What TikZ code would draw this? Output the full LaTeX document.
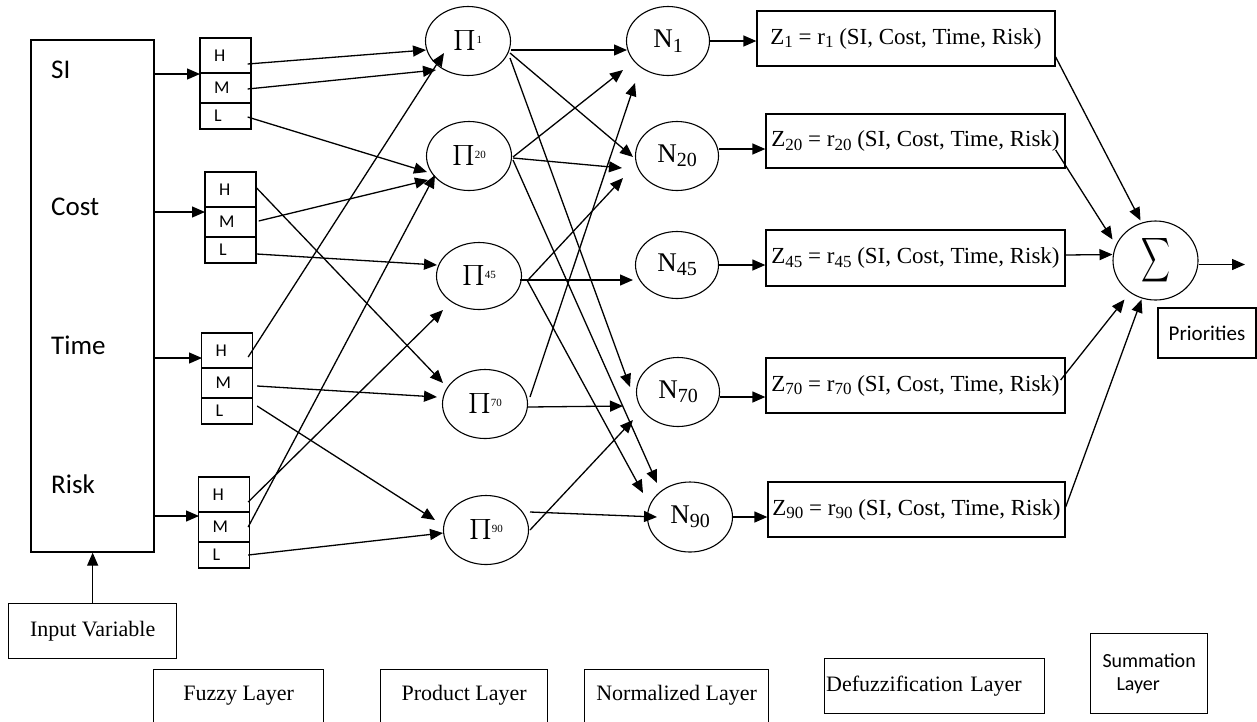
\documentclass[tikz,border=0pt]{standalone}
\usepackage{fontspec}
\setmainfont{Liberation Serif}
\newfontfamily\carl{Carlito}
\usepackage{graphicx}
\usetikzlibrary{arrows.meta,calc,shapes.geometric}
\newcommand{\sbs}[1]{\raisebox{-0.35ex}{\fontsize{17}{17}\selectfont #1}}
\newcommand{\nsbs}[1]{\raisebox{-0.35ex}{\fontsize{20}{20}\selectfont #1}}
\newcommand{\sps}[1]{\raisebox{8pt}{\fontsize{11}{11}\selectfont #1}}
\newcommand{\prodsym}{\scalebox{2.4}[2.0]{$\prod$}}
\begin{document}
\begin{tikzpicture}[x=1pt,y=-1pt,
  every node/.style={inner sep=0pt},
  box/.style={draw, line width=1.3pt, rectangle},
  cell/.style={box, minimum width=51pt, text width=23pt, align=left, font=\carl\fontsize{18}{18}\selectfont},
  cH/.style={cell, minimum height=35pt},
  cM/.style={cell, minimum height=30pt},
  cL/.style={cell, minimum height=26pt},
  invar/.style={anchor=west, font=\carl\fontsize{27}{27}\selectfont},
  ell/.style={draw, line width=1.1pt, ellipse, inner sep=0pt},
  pnode/.style={ell, minimum width=85pt, minimum height=69pt, font=\fontsize{22}{22}\selectfont},
  nnode/.style={ell, minimum width=83pt, minimum height=69pt, font=\fontsize{27}{27}\selectfont},
  zbox/.style={box, minimum height=55pt, inner xsep=2pt, font=\fontsize{23}{23}\selectfont},
  layer/.style={box, anchor=north west, text height=16pt, text depth=60pt, inner ysep=15pt, font=\fontsize{22}{22}\selectfont},
  arr/.style={line width=1.3pt, -{Triangle[length=13pt,width=11pt]}}]
\useasboundingbox (0,0) rectangle (1257,721);
\clip (0,0) rectangle (1257,721);

% input variable box
\node[box, minimum width=123pt, minimum height=512pt] (inp) at (92.5,296) {};
\node[invar] (tsi) at (51,70) {SI};
\node[invar] (tcost) at (51,207) {Cost};
\node[invar] (ttime) at (51,345) {Time};
\node[invar] (trisk) at (51,484) {Risk};

% fuzzy cells
\node[cH] (f1h) at (225.5,55.5) {H};
\node[cM] (f1m) at (225.5,88) {M};
\node[cL] (f1l) at (225.5,116) {L};
\node[cH] (f2h) at (230.5,189.5) {H};
\node[cM] (f2m) at (230.5,222) {M};
\node[cL] (f2l) at (230.5,250) {L};
\node[cH] (f3h) at (227,350.5) {H};
\node[cM] (f3m) at (227,383) {M};
\node[cL] (f3l) at (227,411) {L};
\node[cH] (f4h) at (224,494.5) {H};
\node[cM] (f4m) at (224,527) {M};
\node[cL] (f4l) at (224,555) {L};

\coordinate (a1) at (200,74);
\coordinate (a2) at (205,212);
\coordinate (a3) at (202,358);
\coordinate (a4) at (199,516);
\draw[arr] (inp.east |- a1) -- (a1);
\draw[arr] (inp.east |- a2) -- (a2);
\draw[arr] (inp.east |- a3) -- (a3);
\draw[arr] (inp.east |- a4) -- (a4);

% product layer
\node[pnode] (p1) at (468,41) {\prodsym\sps{1}};
\node[pnode] (p20) at (469,156) {\prodsym\sps{20}};
\node[pnode, minimum height=67pt] (p45) at (479,276) {\prodsym\sps{45}};
\node[pnode] (p70) at (485,404) {\prodsym\sps{70}};
\node[pnode] (p90) at (486,530) {\prodsym\sps{90}};

% normalized layer
\node[nnode] (n1) at (668,41) {N\nsbs{1}};
\node[nnode] (n20) at (677,156) {N\nsbs{20}};
\node[nnode, minimum height=67pt] (n45) at (677,265) {N\nsbs{45}};
\node[nnode] (n70) at (678,392) {N\nsbs{70}};
\node[nnode, minimum width=85pt, minimum height=70pt] (n90) at (690,517) {N\nsbs{90}};

% defuzzification boxes
\node[zbox, minimum width=298pt] (z1) at (906,38.5) {Z\sbs{1} = r\sbs{1} (SI, Cost, Time, Risk)};
\node[zbox, minimum width=299pt, minimum height=54pt] (z20) at (915.5,141) {Z\sbs{20} = r\sbs{20} (SI, Cost, Time, Risk)};
\node[zbox, minimum width=299pt, minimum height=56pt] (z45) at (915.5,258) {Z\sbs{45} = r\sbs{45} (SI, Cost, Time, Risk)};
\node[zbox, minimum width=299pt] (z70) at (915.5,385.5) {Z\sbs{70} = r\sbs{70} (SI, Cost, Time, Risk)};
\node[zbox, minimum width=297pt] (z90) at (916.5,509.5) {Z\sbs{90} = r\sbs{90} (SI, Cost, Time, Risk)};

% summation
\node[ell, minimum width=85pt, minimum height=79pt] (sig) at (1155.5,260.5) {\scalebox{2.0}[3.1]{$\displaystyle\sum$}};
\coordinate (outp) at (1245,264.5);
\node[box, minimum width=98pt, minimum height=50pt, font=\carl\fontsize{21}{21}\selectfont] (prio) at (1207,333) {Priorities};

% fuzzy -> product
\draw[arr] ($(f1h.east)+(-4,8.5)$) -- ($(p1)+(-42,9)$);
\draw[arr] ($(f1m.east)+(-4,1)$) -- ($(p1)+(-32,29)$);
\draw[arr] ($(f1l.east)+(-4,1)$) -- ($(p20)+(-42,16)$);
\draw[arr] ($(f2h.east)+(0,-1.5)$) -- ($(p70)+(-42,-21)$);
\draw[arr] ($(f2m.east)+(2,-1)$) -- ($(p20)+(-41,24)$);
\draw[arr] ($(f2l.east)+(0,4)$) -- ($(p45)+(-42,-11)$);
\draw[arr] ($(f3h.east)+(-5,6.5)$) -- ($(p1)+(-24,12)$);
\draw[arr] ($(f3m.east)+(4,3)$) -- ($(p70)+(-48,-7)$);
\draw[arr] ($(f3l.east)+(4,-5)$) -- ($(p90)+(-51,-10)$);
\draw[arr] ($(f4h.east)+(-2,7.5)$) -- ($(p45)+(-36,34)$);
\draw[arr] ($(f4m.east)+(-2,0)$) -- ($(p20)+(-34,19)$);
\draw[arr] ($(f4l.east)+(-2,0)$) -- ($(p90)+(-43,3)$);

% product -> normalized
\draw[arr] ($(p1)+(43,9)$) -- ($(n1)+(-41,9)$);
\draw[arr] ($(p1)+(42,12)$) -- ($(n20)+(-44,1)$);
\draw[arr] ($(p1)+(42,17)$) -- ($(n70)+(-48,-5)$);
\draw[arr] ($(p20)+(44,1)$) -- ($(n1)+(-45,29)$);
\draw[arr] ($(p20)+(44,2)$) -- ($(n20)+(-55,12)$);
\draw[arr] ($(p20)+(44,4)$) -- ($(n90)+(-33,-34)$);
\draw[arr] ($(p45)+(49,4)$) -- ($(n20)+(-54,22)$);
\draw[arr] ($(p45)+(41,4)$) -- ($(n45)+(-44,15)$);
\draw[arr] ($(p45)+(48,4)$) -- ($(n90)+(-47,-24)$);
\draw[arr] ($(p70)+(45,-7)$) -- ($(n1)+(-33,42)$);
\draw[arr] ($(p70)+(43,3)$) -- ($(n70)+(-55,14)$);
\draw[arr] ($(p90)+(44,0)$) -- ($(n70)+(-45,28)$);
\draw[arr] ($(p90)+(44,-18)$) -- ($(n90)+(-33,0)$);

% normalized -> defuzzification
\draw[arr] (n1.east) -- (n1.east -| z1.west);
\draw[arr] ($(n20.east)+(0,-7)$) coordinate (q20) -- (q20 -| z20.west);
\draw[arr] (n45.east) -- (n45.east -| z45.west);
\draw[arr] ($(n70.east)+(0,5)$) coordinate (q70) -- (q70 -| z70.west);
\draw[arr] (n90.east) -- (n90.east -| z90.west);

% defuzzification -> summation
\draw[arr] ($(z1.east)+(0,18.5)$) -- ($(sig)+(-15,-40)$);
\draw[arr] ($(z20.east)+(-10,9)$) -- ($(sig)+(-43,-21)$);
\draw[arr] ($(z45.east)+(0,-3)$) -- ($(sig)+(-43,-6)$);
\draw[arr] ($(z70.east)+(-5,-5.5)$) -- ($(sig)+(-31,39)$);
\draw[arr] ($(z90.east)+(0,-2.5)$) -- ($(sig)+(-14,39)$);
\draw[arr] ($(sig.east)+(0,4)$) -- (outp);

% bottom labels
\node[box, anchor=north west, minimum width=168pt, minimum height=55pt, font=\fontsize{22}{22}\selectfont] (iv) at (8,603) {Input Variable};
\draw[arr] (iv.north) -- (iv.north |- inp.south);
\node[layer, minimum width=170pt] (fl) at (153,669) {Fuzzy Layer};
\node[layer, minimum width=167pt] (pl) at (380,669) {Product Layer};
\node[layer, minimum width=184pt] (nl) at (584,669) {Normalized Layer};
\node[box, anchor=north west, minimum width=220pt, minimum height=55pt, text width=217pt, inner xsep=1.5pt, align=left, font=\fontsize{22}{22}\selectfont] (dl) at (824,658) {Defuzzification Layer};
\node[box, anchor=north west, minimum width=117pt, minimum height=80pt, align=left, font=\carl\fontsize{20}{23}\selectfont] (sl) at (1090,633) {Summation\\\hspace*{14pt}Layer};
\end{tikzpicture}
\end{document}
